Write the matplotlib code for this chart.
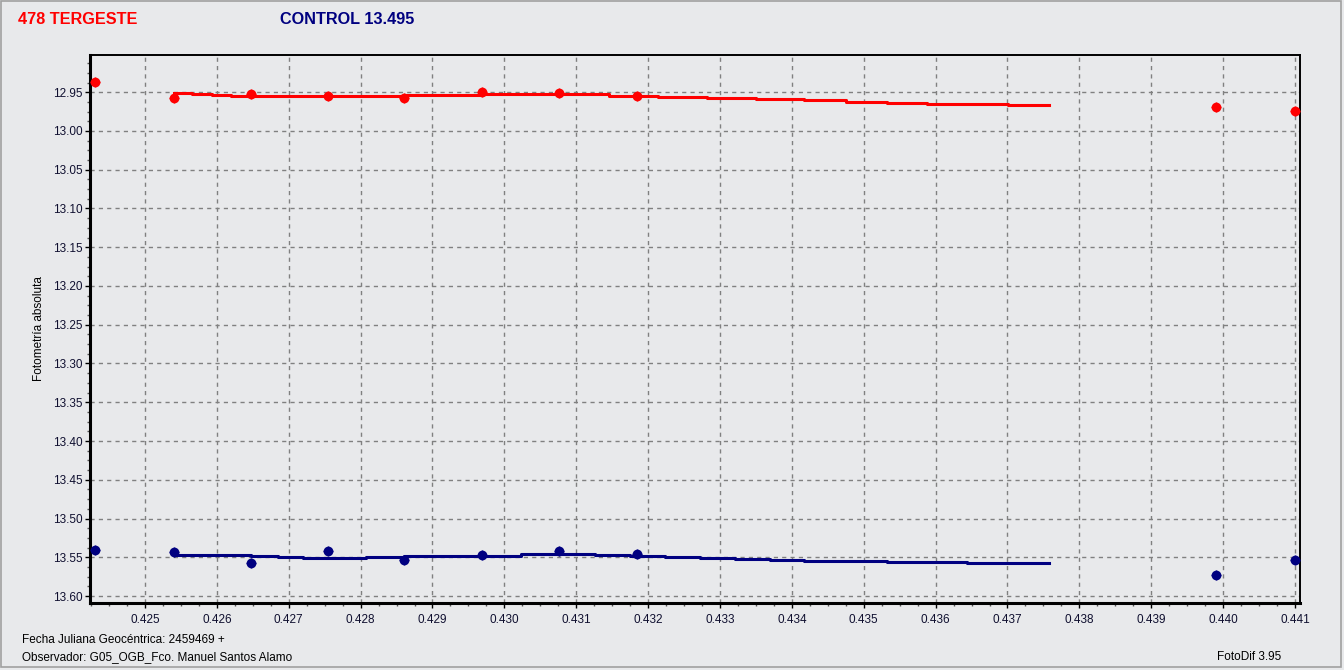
import matplotlib
matplotlib.use("Agg")
import matplotlib.pyplot as plt
from matplotlib.ticker import MultipleLocator, FormatStrFormatter
from matplotlib.patches import Rectangle

# ---- data ----
obs_x = [0.424305, 0.425403, 0.426473, 0.427544, 0.428600, 0.429684,
         0.430755, 0.431839, 0.439901, 0.441000]
target_y = [12.937, 12.9577, 12.9526, 12.9552, 12.9577, 12.950,
            12.9513, 12.9552, 12.9694, 12.9745]
control_y = [13.541, 13.5435, 13.5577, 13.5423, 13.5539, 13.5474,
             13.5423, 13.5461, 13.5732, 13.5539]

target_line_x = [0.425398, 0.425653, 0.425935, 0.426201, 0.428606, 0.429686,
                 0.431451, 0.432144, 0.432822, 0.433502, 0.434174, 0.434749,
                 0.435321, 0.435876, 0.436443, 0.437010, 0.437583]
target_line_y = [12.9509, 12.9522, 12.9535, 12.9548, 12.9535, 12.9522,
                 12.9543, 12.9562, 12.9577, 12.9590, 12.9603, 12.9620,
                 12.9633, 12.9646, 12.9655, 12.9664, 12.9664]

control_line_x = [0.425398, 0.426478, 0.426850, 0.427196, 0.428073, 0.428606,
                  0.430228, 0.431265, 0.431746, 0.432237, 0.432723, 0.433204,
                  0.433693, 0.434174, 0.435321, 0.436443, 0.437583]
control_line_y = [13.5470, 13.5487, 13.5496, 13.5509, 13.5496, 13.5478,
                  13.5457, 13.5470, 13.5483, 13.5496, 13.5513, 13.5526,
                  13.5539, 13.5552, 13.5565, 13.5577, 13.5577]

title_target = "478 TERGESTE"
title_control = "CONTROL 13.495"
y_label = "Fotometría absoluta"
footer1 = "Fecha Juliana Geocéntrica: 2459469 +"
footer2 = "Observador: G05_OGB_Fco. Manuel Santos Alamo"
footer3 = "FotoDif 3.95"

BG = "#e8e9eb"
RED = "#ff0000"
NAVY = "#000080"

plt.rcParams['font.family'] = ['Liberation Sans', 'DejaVu Sans']

fig = plt.figure(figsize=(13.44, 6.70), dpi=100, facecolor=BG)
ax = fig.add_axes([90/1344, 1-603/670, (1300-90)/1344, (603-55)/670])
ax.set_facecolor(BG)

# border of the window
fig.patches.append(Rectangle((1/1344, 3/670), 1340/1344, 666/670,
                             transform=fig.transFigure, fill=False,
                             edgecolor="#a0a0a0", lw=1.2))

ax.plot(target_line_x, target_line_y, drawstyle='steps-post', color=RED, lw=2.2, zorder=3)
ax.plot(control_line_x, control_line_y, drawstyle='steps-post', color=NAVY, lw=2.2, zorder=3)
ax.plot(obs_x, target_y, 'o', color=RED, ms=6, zorder=4)
ax.plot(obs_x, target_y, '+', color=RED, ms=7, mew=1.0, zorder=4)
ax.plot(obs_x, control_y, 'o', color=NAVY, ms=6, zorder=4)
ax.plot(obs_x, control_y, '+', color=NAVY, ms=7, mew=1.0, zorder=4)

ax.set_xlim(0.424235, 0.44107)
ax.set_ylim(13.609, 12.902)

ax.xaxis.set_major_locator(MultipleLocator(0.001))
ax.xaxis.set_minor_locator(MultipleLocator(0.00025))
ax.yaxis.set_major_locator(MultipleLocator(0.05))
ax.yaxis.set_minor_locator(MultipleLocator(0.0125))
ax.xaxis.set_major_formatter(FormatStrFormatter('%.3f'))
ax.yaxis.set_major_formatter(FormatStrFormatter('%.2f'))

ax.grid(True, which='major', color='#808080', ls=(0, (3, 3)), lw=1.0)
ax.tick_params(which='major', length=3.8, width=1, labelsize=8.5, colors='black',
               labelcolor='#101030', pad=1.5)
ax.tick_params(axis='x', which='major', pad=4)
ax.tick_params(which='minor', length=2.0, width=1, colors='#555555')

for s in ['left', 'bottom']:
    ax.spines[s].set_linewidth(2.2)
for s in ['top', 'right']:
    ax.spines[s].set_linewidth(1.4)

ax.set_ylabel(y_label, fontsize=8.5)
ax.yaxis.set_label_coords(-0.037, 0.5)

fig.text(18/1344, 1-19/670, title_target, color=RED, fontsize=11.7,
         fontweight='bold', va='center', ha='left')
fig.text(280/1344, 1-19/670, title_control, color=NAVY, fontsize=11.7,
         fontweight='bold', va='center', ha='left')
fig.text(22/1344, 1-640/670, footer1, fontsize=8.5, va='center', ha='left')
fig.text(22/1344, 1-657/670, footer2, fontsize=8.5, va='center', ha='left')
fig.text(1281/1344, 1-657/670, footer3, fontsize=8.5, va='center', ha='right')

fig.savefig("out.png", dpi=100, facecolor=BG)
